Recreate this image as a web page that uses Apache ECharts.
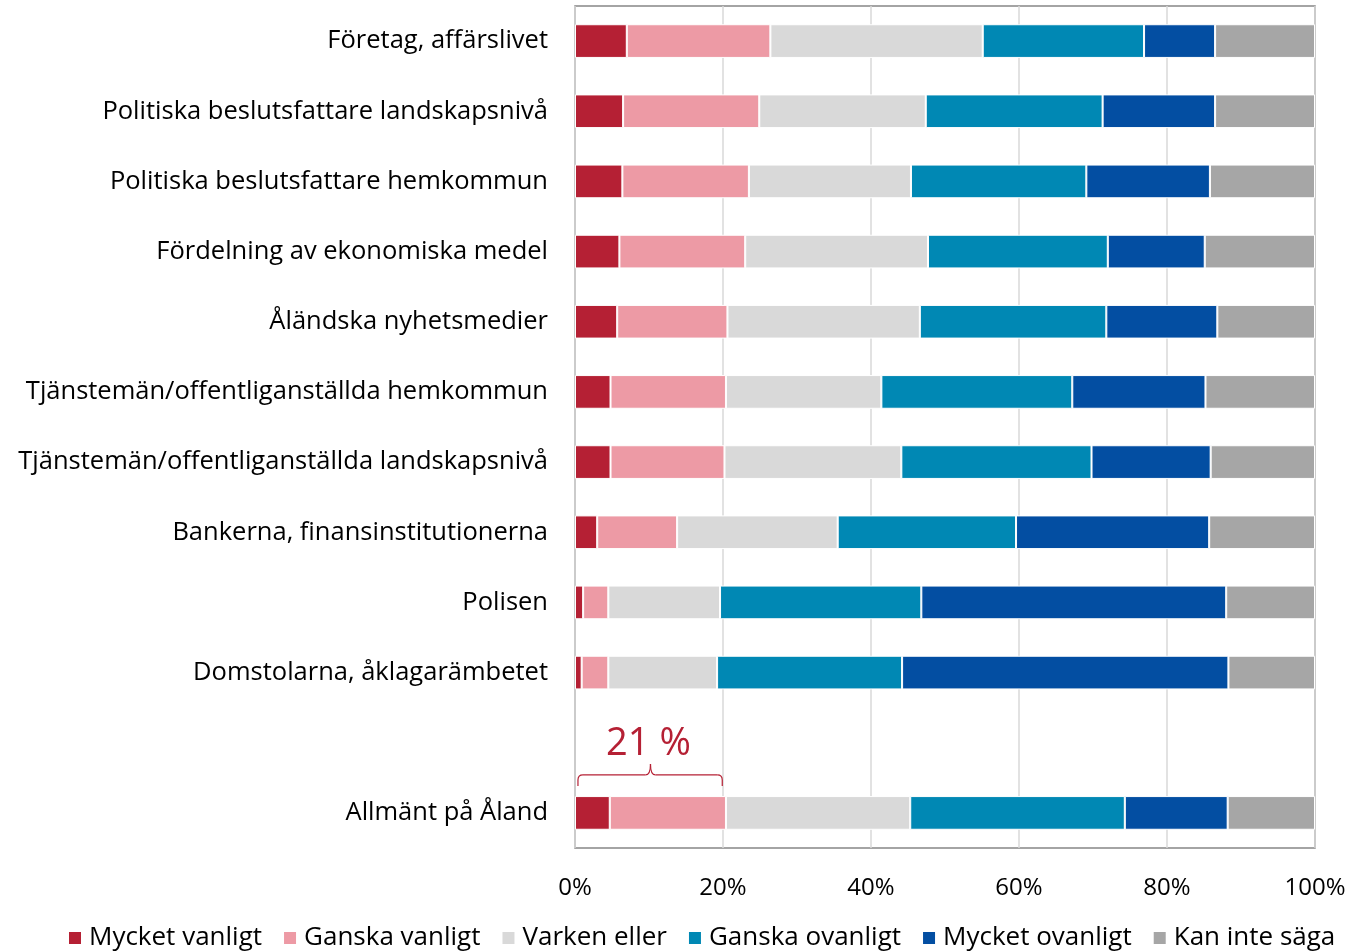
<!DOCTYPE html>
<html>
<head>
<meta charset="utf-8">
<script src="https://cdn.jsdelivr.net/npm/echarts@6/dist/echarts.min.js"></script>
<style>
  html, body { margin: 0; padding: 0; background: #fff; }
  #main { width: 1350px; height: 951px; }
</style>
</head>
<body>
<div id="main"></div>
<script>
let categories = [
  'Företag, affärslivet',
  'Politiska beslutsfattare landskapsnivå',
  'Politiska beslutsfattare hemkommun',
  'Fördelning av ekonomiska medel',
  'Åländska nyhetsmedier',
  'Tjänstemän/offentliganställda hemkommun',
  'Tjänstemän/offentliganställda landskapsnivå',
  'Bankerna, finansinstitutionerna',
  'Polisen',
  'Domstolarna, åklagarämbetet',
  '',
  'Allmänt på Åland'
]

let seriesNames = ['Mycket vanligt', 'Ganska vanligt', 'Varken eller', 'Ganska ovanligt', 'Mycket ovanligt', 'Kan inte säga']

// andelar i procent, en rad per svarsalternativ (tom rad = luckan)
let mycketVanligt  = [7.0, 6.5, 6.4, 6.0, 5.7, 4.8, 4.8, 3.0, 1.1, 0.9, null, 4.7]
let ganskaVanligt  = [19.4, 18.4, 17.1, 17.0, 14.9, 15.6, 15.4, 10.8, 3.4, 3.6, null, 15.7]
let varkenEller    = [28.7, 22.5, 21.9, 24.7, 26.0, 21.0, 23.9, 21.7, 15.1, 14.7, null, 24.9]
let ganskaOvanligt = [21.8, 23.9, 23.7, 24.3, 25.2, 25.8, 25.7, 24.1, 27.2, 25.0, null, 29.0]
let mycketOvanligt = [9.6, 15.2, 16.7, 13.1, 15.0, 18.0, 16.1, 26.1, 41.2, 44.1, null, 13.9]
let kanInteSaga    = [13.5, 13.5, 14.2, 14.9, 13.2, 14.8, 14.1, 14.3, 12.0, 11.7, null, 11.8]

let xTicks = [0, 20, 40, 60, 80, 100]

let annotationText = '21 %'

let colors = ['#B52034', '#ED9AA5', '#D9D9D9', '#0088B4', '#034EA2', '#A6A6A6']

let font = '"Open Sans", sans-serif'

let chart = echarts.init(document.getElementById('main'), null, { renderer: 'canvas' })

let allValues = [mycketVanligt, ganskaVanligt, varkenEller, ganskaOvanligt, mycketOvanligt, kanInteSaga]

let option = {
  animation: false,
  color: colors,
  textStyle: { fontFamily: font },
  grid: {
    left: 575,
    right: 35,
    top: 6,
    bottom: 103,
    show: true,
    borderColor: '#868686',
    borderWidth: 1.5
  },
  legend: {
    data: seriesNames,
    left: 62,
    top: 920,
    itemWidth: 14,
    itemHeight: 14,
    itemGap: 20,
    icon: 'rect',
    textStyle: { fontSize: 26, color: '#000', fontFamily: font, padding: [0, 0, 0, 2] }
  },
  xAxis: {
    type: 'value',
    min: 0,
    max: 100,
    interval: 20,
    axisLine: { show: false },
    axisTick: { show: false },
    splitLine: { show: true, lineStyle: { color: '#D9D9D9', width: 1.5 } },
    axisLabel: {
      margin: 28,
      fontSize: 24,
      color: '#000',
      fontFamily: font,
      formatter: v => xTicks.indexOf(v) >= 0 ? v + '%' : ''
    }
  },
  yAxis: {
    type: 'category',
    inverse: true,
    data: categories,
    axisLine: { show: false },
    axisTick: { show: false },
    axisLabel: { margin: 27, fontSize: 25.5, color: '#000', fontFamily: font }
  },
  series: seriesNames.map((name, i) => ({
    name: name,
    type: 'bar',
    stack: 'total',
    barWidth: '48%',
    itemStyle: { borderColor: '#fff', borderWidth: 1 },
    data: allValues[i]
  }))
}

chart.setOption(option)

// klammer + text över raden "Allmänt på Åland"
let lastIdx = categories.length - 1
let gapIdx = categories.indexOf('')
let braceEnd = mycketVanligt[lastIdx] + ganskaVanligt[lastIdx]
let pGap = chart.convertToPixel({ gridIndex: 0 }, [0, gapIdx])
let pStart = chart.convertToPixel({ gridIndex: 0 }, [0.4, lastIdx])
let pEnd = chart.convertToPixel({ gridIndex: 0 }, [braceEnd - 0.5, lastIdx])
let pMid = chart.convertToPixel({ gridIndex: 0 }, [braceEnd / 2, lastIdx])

let x1 = pStart[0], x2 = pEnd[0], xm = pMid[0]
let yBot = pStart[1] - 27
let yLine = yBot - 11
let yTop = yLine - 11
let r = 5

let braceStyle = { stroke: '#B52034', lineWidth: 1.2, fill: null }

let seg = (a, b, c, d) => ({ type: 'line', shape: { x1: a, y1: b, x2: c, y2: d }, style: braceStyle })
let curve = (a, b, cx, cy, c, d) => ({
  type: 'bezierCurve',
  shape: { x1: a, y1: b, cpx1: cx, cpy1: cy, x2: c, y2: d },
  style: braceStyle
})

chart.setOption({
  graphic: [
    {
      type: 'text',
      x: xm - 2,
      y: pGap[1] + 1,
      style: {
        text: annotationText,
        font: '38px ' + font,
        fill: '#B52034',
        align: 'center',
        verticalAlign: 'middle'
      }
    },
    seg(x1, yBot, x1, yLine + r),
    curve(x1, yLine + r, x1, yLine, x1 + r, yLine),
    seg(x1 + r, yLine, xm - r, yLine),
    curve(xm - r, yLine, xm, yLine, xm, yTop),
    curve(xm, yTop, xm, yLine, xm + r, yLine),
    seg(xm + r, yLine, x2 - r, yLine),
    curve(x2 - r, yLine, x2, yLine, x2, yLine + r),
    seg(x2, yLine + r, x2, yBot)
  ]
})
</script>
</body>
</html>
